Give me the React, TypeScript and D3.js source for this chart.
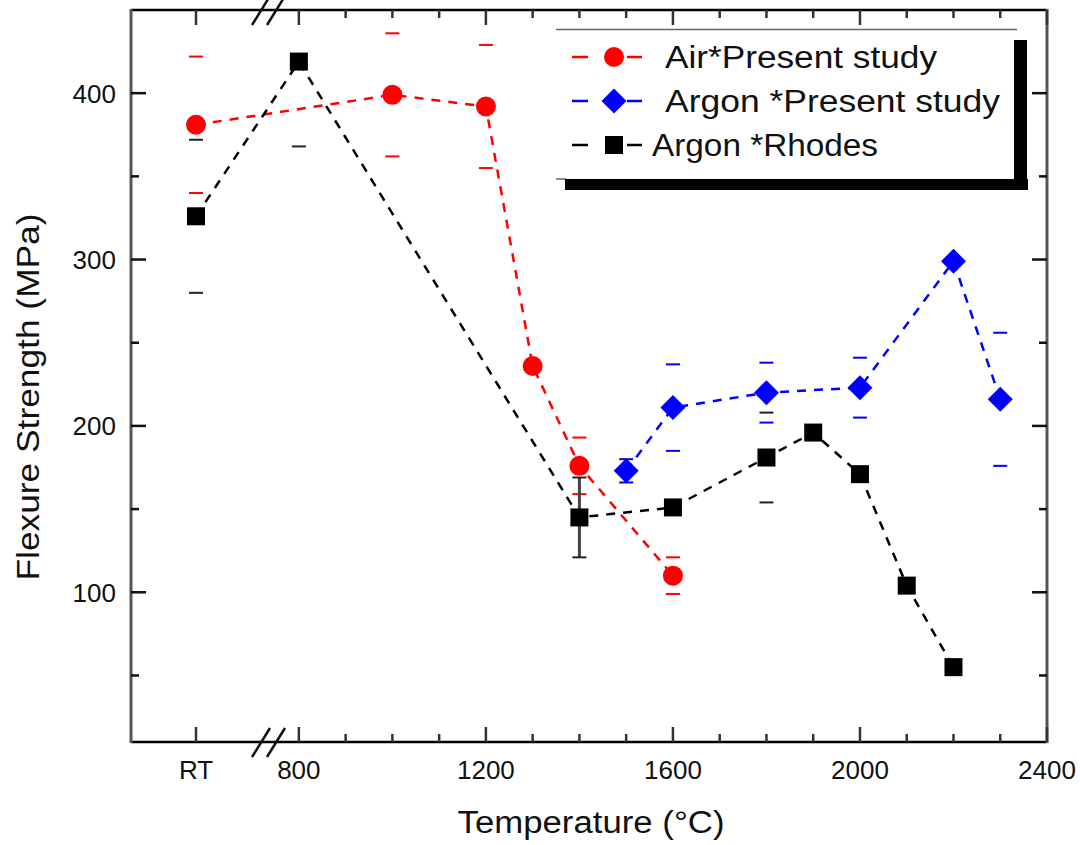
import React from "react";
import * as d3 from "d3";

// ---------- data ----------
const airTemps: (number | string)[] = ["RT", 1000, 1200, 1300, 1400, 1600];
const airValues = [381, 399, 392, 236, 176, 110];
const airErrors = [41, 37, 37, 0, 17, 11];

const argonTemps: (number | string)[] = [1500, 1600, 1800, 2000, 2200, 2300];
const argonValues = [173, 211, 220, 223, 299, 216];
const argonErrors = [7, 26, 18, 18, 0, 40];

const rhodesTemps: (number | string)[] = ["RT", 800, 1400, 1600, 1800, 1900, 2000, 2100, 2200];
const rhodesValues = [326, 419, 145, 151, 181, 196, 171, 104, 55];
const rhodesErrors = [46, 51, 24, 0, 27, 0, 0, 0, 0];
const rhodesStemTemps = [1400];

const xMajorTicks: (number | string)[] = ["RT", 800, 1200, 1600, 2000, 2400];
const xMinorTicks = [900, 1000, 1100, 1300, 1400, 1500, 1700, 1800, 1900, 2100, 2200, 2300];
const yMajorTicks = [100, 200, 300, 400];
const yMinorTicks = [50, 150, 250, 350];

const legendLabels = ["Air*Present study", "Argon *Present study", "Argon *Rhodes"];

const X_TITLE = "Temperature (\u00B0C)";
const Y_TITLE = "Flexure Strength (MPa)";

// RT is drawn left of the axis break
const RT_AT = 580;

const W = 1080;
const H = 845;
const L = 131, R = 1047, T = 10, B = 742;

const FONT = "'Liberation Sans', Arial, Helvetica, sans-serif";

export default function App() {
  const x = d3.scaleLinear().domain([441, 2400]).range([L, R]);
  const y = d3.scaleLinear().domain([10, 450]).range([B, T]);
  const xp = (t: number | string) => (t === "RT" ? x(RT_AT) : x(t as number));

  const line = d3
    .line<[number | string, number]>()
    .x((d) => xp(d[0]))
    .y((d) => y(d[1]));

  const series = [
    { temps: airTemps, vals: airValues, errs: airErrors, color: "#ff0000", marker: "circle" },
    { temps: argonTemps, vals: argonValues, errs: argonErrors, color: "#0000ff", marker: "diamond" },
    { temps: rhodesTemps, vals: rhodesValues, errs: rhodesErrors, color: "#000000", marker: "square" },
  ];

  const marker = (type: string, cx: number, cy: number, color: string, key: string) => {
    if (type === "circle") return <circle key={key} cx={cx} cy={cy} r={10} fill={color} />;
    if (type === "diamond") {
      const s = 12.5;
      return (
        <path
          key={key}
          d={`M${cx},${cy - s}L${cx + s},${cy}L${cx},${cy + s}L${cx - s},${cy}Z`}
          fill={color}
        />
      );
    }
    return <rect key={key} x={cx - 9} y={cy - 9} width={18} height={18} fill={color} />;
  };

  const capColor = (c: string) => (c === "#000000" ? "#222" : c);

  const breakX1 = 261, breakX2 = 276;
  const legendStartX = [665, 665, 652];
  const legendLen = [272, 335, 226];

  return (
    <svg
      width={W}
      height={H}
      style={{ position: "absolute", left: 0, top: 0, background: "#fff" }}
      fontFamily={FONT}
    >
      <defs>
        <clipPath id="plotclip">
          <rect x={L} y={T} width={R - L} height={B - T} />
        </clipPath>
      </defs>

      {/* lines */}
      <g clipPath="url(#plotclip)">
        {series.map((s, i) => (
          <path
            key={"l" + i}
            d={line(s.temps.map((t, j) => [t, s.vals[j]]))!}
            fill="none"
            stroke={s.color}
            strokeWidth={2.5}
            strokeDasharray="9,8"
          />
        ))}
        {/* error bars (caps) */}
        {series.map((s, i) =>
          s.temps.map((t, j) => {
            const e = s.errs[j];
            if (!e) return null;
            const cx = xp(t);
            const c = capColor(s.color);
            const hasStem = i === 2 && rhodesStemTemps.includes(t as number);
            return (
              <g key={`e${i}-${j}`}>
                {hasStem && (
                  <line x1={cx} x2={cx} y1={y(s.vals[j] + e)} y2={y(s.vals[j] - e)} stroke="#444" strokeWidth={3} />
                )}
                <line x1={cx - 7} x2={cx + 7} y1={y(s.vals[j] + e)} y2={y(s.vals[j] + e)} stroke={c} strokeWidth={2} />
                <line x1={cx - 7} x2={cx + 7} y1={y(s.vals[j] - e)} y2={y(s.vals[j] - e)} stroke={c} strokeWidth={2} />
              </g>
            );
          })
        )}
        {/* markers */}
        {series.map((s, i) =>
          s.temps.map((t, j) => marker(s.marker, xp(t), y(s.vals[j]), s.color, `m${i}-${j}`))
        )}
      </g>

      {/* axes frame */}
      <line x1={L} x2={R} y1={B} y2={B} stroke="#000" strokeWidth={2.5} />
      <line x1={L} x2={R} y1={T} y2={T} stroke="#000" strokeWidth={2.5} />
      <line x1={L} x2={L} y1={T - 1} y2={B + 1} stroke="#555" strokeWidth={3} />
      <line x1={R} x2={R} y1={T - 1} y2={B + 1} stroke="#555" strokeWidth={3} />

      {/* x ticks */}
      {xMajorTicks.map((t, i) => (
        <g key={"xt" + i}>
          <line x1={xp(t)} x2={xp(t)} y1={B} y2={B - 15} stroke="#333" strokeWidth={2.5} />
          <line x1={xp(t)} x2={xp(t)} y1={T} y2={T + 15} stroke="#333" strokeWidth={2.5} />
          <text x={xp(t)} y={779} textAnchor="middle" fontSize={26} fill="#111">
            {String(t)}
          </text>
        </g>
      ))}
      {xMinorTicks.map((t, i) => (
        <g key={"xm" + i}>
          <line x1={x(t)} x2={x(t)} y1={B} y2={B - 8} stroke="#333" strokeWidth={2.5} />
          <line x1={x(t)} x2={x(t)} y1={T} y2={T + 8} stroke="#333" strokeWidth={2.5} />
        </g>
      ))}

      {/* y ticks */}
      {yMajorTicks.map((v, i) => (
        <g key={"yt" + i}>
          <line x1={L} x2={L + 15} y1={y(v)} y2={y(v)} stroke="#111" strokeWidth={2.5} />
          <line x1={R} x2={R - 15} y1={y(v)} y2={y(v)} stroke="#111" strokeWidth={2.5} />
          <text x={116} y={y(v) + 9.5} textAnchor="end" fontSize={26} fill="#111">
            {v}
          </text>
        </g>
      ))}
      {yMinorTicks.map((v, i) => (
        <g key={"ym" + i}>
          <line x1={L} x2={L + 8} y1={y(v)} y2={y(v)} stroke="#111" strokeWidth={2.5} />
          <line x1={R} x2={R - 8} y1={y(v)} y2={y(v)} stroke="#111" strokeWidth={2.5} />
        </g>
      ))}

      {/* axis breaks */}
      {[breakX1, breakX2].map((bx, i) => (
        <g key={"br" + i}>
          <line x1={bx - 9} x2={bx + 9} y1={B + 15} y2={B - 14} stroke="#111" strokeWidth={2.5} />
          <line x1={bx - 9} x2={bx + 9} y1={T + 15} y2={T - 14} stroke="#111" strokeWidth={2.5} />
        </g>
      ))}

      {/* titles */}
      <text
        x={591}
        y={833}
        textAnchor="middle"
        fontSize={31}
        fill="#111"
        textLength={267}
        lengthAdjust="spacingAndGlyphs"
      >
        {X_TITLE}
      </text>
      <text
        transform={`translate(39,397) rotate(-90)`}
        textAnchor="middle"
        fontSize={32}
        fill="#111"
        textLength={367}
        lengthAdjust="spacingAndGlyphs"
      >
        {Y_TITLE}
      </text>

      {/* legend */}
      <g>
        <rect x={556} y={30} width={462} height={149} fill="#fff" />
        <line x1={556} x2={1017} y1={29.5} y2={29.5} stroke="#666" strokeWidth={1.5} />
        <line x1={556} x2={566} y1={179} y2={179} stroke="#666" strokeWidth={1.5} />
        <rect x={565} y={179} width={463} height={11} fill="#000" />
        <rect x={1014} y={40} width={13} height={150} fill="#000" />
        {series.map((s, i) => {
          const ly = [57, 101, 145][i];
          return (
            <g key={"lg" + i}>
              <line x1={572} x2={588} y1={ly} y2={ly} stroke={s.color} strokeWidth={2.5} />
              <line x1={627} x2={642} y1={ly} y2={ly} stroke={s.color} strokeWidth={2.5} />
              {marker(s.marker, 614, ly, s.color, "lm" + i)}
              <text
                x={legendStartX[i]}
                y={ly + 11}
                fontSize={31}
                fill="#111"
                textLength={legendLen[i]}
                lengthAdjust="spacingAndGlyphs"
              >
                {legendLabels[i]}
              </text>
            </g>
          );
        })}
      </g>
    </svg>
  );
}
